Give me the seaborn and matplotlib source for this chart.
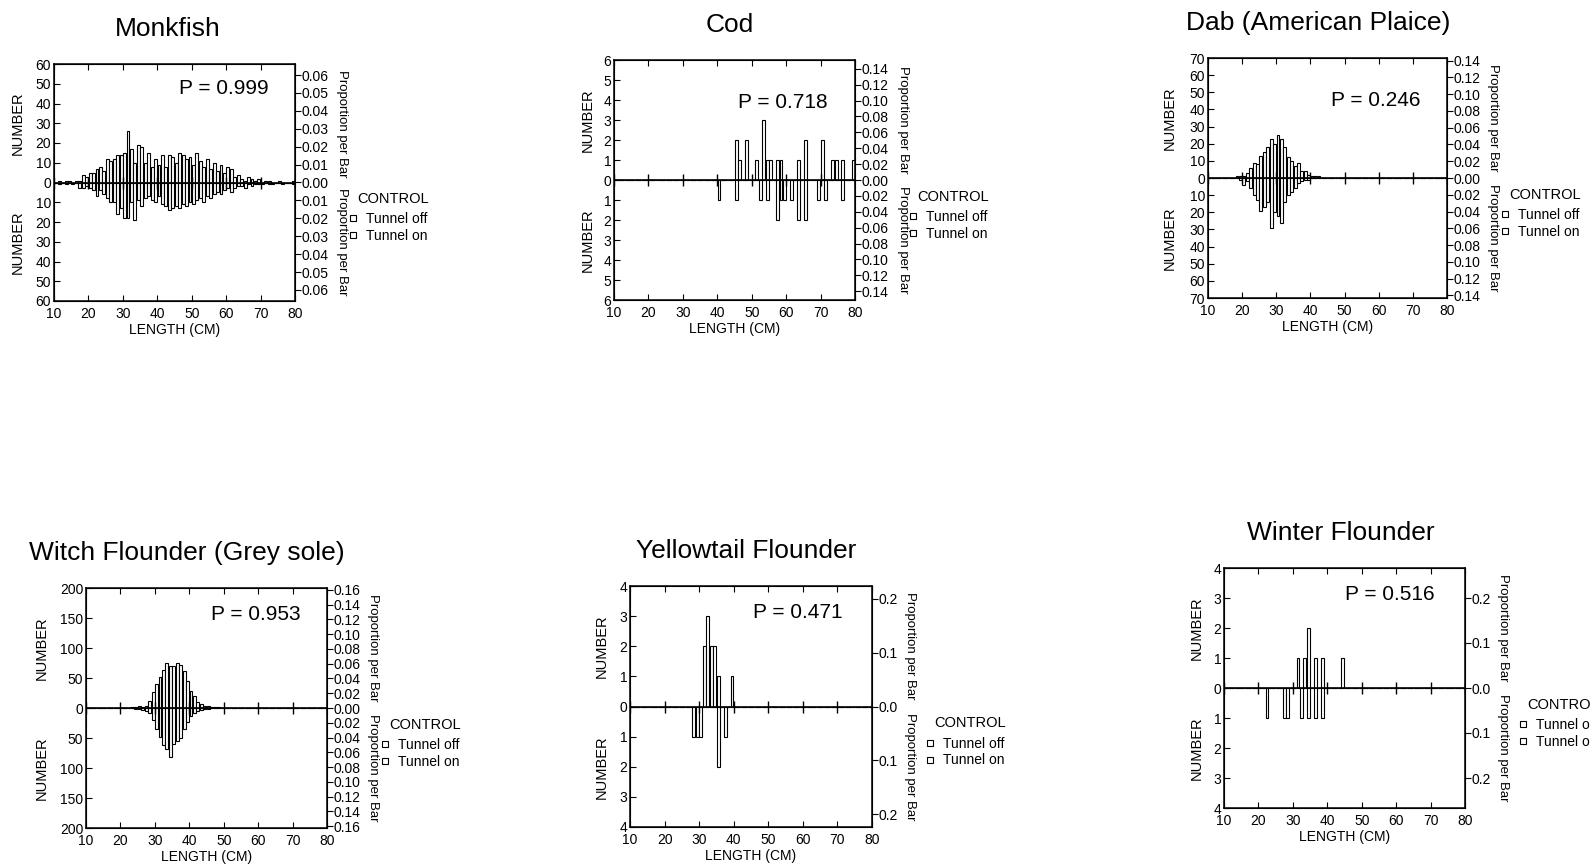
"""
Back-to-back length-frequency histograms, tunnel off (up) vs tunnel on (down),
six species, 1 cm length classes.
"""

import numpy as np
import pandas as pd
import matplotlib
matplotlib.use("Agg")
import matplotlib.pyplot as plt
from matplotlib.lines import Line2D
from matplotlib.ticker import FuncFormatter, MultipleLocator
import seaborn as sns

sns.set_style("ticks")
plt.rcParams["font.family"] = ["Liberation Sans", "DejaVu Sans"]
plt.rcParams.update({"text.color": "black", "axes.labelcolor": "black",
                     "xtick.color": "black", "ytick.color": "black",
                     "axes.edgecolor": "black"})

# ---- data -------------------------------------------------------------
TITLES = ["Monkfish", "Cod", "Dab (American Plaice)",
          "Witch Flounder (Grey sole)", "Yellowtail Flounder", "Winter Flounder"]
P_VALUES = ["0.999", "0.718", "0.246", "0.953", "0.471", "0.516"]
Y_MAX = [60, 6, 70, 200, 4, 4]
Y_STEP = [10, 1, 10, 50, 1, 1]
PROP_STEP = [0.01, 0.02, 0.02, 0.02, 0.1, 0.1]
TOTAL_N = [907, 39.7, 489, 1232, 17.9, 15.0]   # fish per panel (sets right axis)
XTICKS = [10, 20, 30, 40, 50, 60, 70, 80]

MONK_LEN = list(range(11, 80))
MONK_OFF = [1, 0, 1, 1, 0, 1, 1, 4, 3, 5, 5, 7, 8, 6, 12, 11, 12, 14, 14, 15,
            26, 17, 10, 19, 18, 10, 15, 8, 12, 9, 14, 8, 14, 13, 10, 15, 14, 12,
            13, 9, 15, 11, 8, 12, 7, 10, 6, 9, 5, 8, 7, 3, 4, 2, 1, 3, 2, 1,
            2, 0, 1, 1, 0, 0, 1, 0, 0, 0, 1]
MONK_ON = [1, 0, 1, 0, 1, 0, 3, 3, 2, 3, 4, 7, 4, 6, 8, 10, 10, 16, 13, 18,
           18, 10, 19, 9, 12, 8, 7, 9, 10, 7, 11, 12, 14, 13, 12, 13, 11, 12,
           10, 11, 9, 8, 10, 7, 8, 6, 5, 6, 4, 3, 5, 3, 2, 2, 3, 1, 2, 1, 1,
           1, 0, 1, 1, 0, 0, 1, 0, 0, 1]

COD_OFF_LEN = [45, 46, 48, 51, 53, 54, 55, 57, 58, 63, 65, 70, 73, 74, 76, 79]
COD_OFF = [2, 1, 2, 1, 3, 1, 1, 1, 1, 1, 2, 2, 1, 1, 1, 1]
COD_ON_LEN = [40, 45, 52, 54, 57, 58, 59, 61, 63, 65, 69, 71, 76]
COD_ON = [1, 1, 1, 1, 2, 1, 1, 1, 2, 2, 1, 1, 1]

DAB_LEN = list(range(17, 44))
DAB_OFF = [0, 1, 1, 1, 3, 6, 9, 8, 13, 15, 18, 23, 20, 25, 23, 18, 12, 10, 7,
           9, 4, 4, 2, 1, 1, 1, 0]
DAB_ON = [0, 0, 1, 4, 2, 6, 10, 13, 19, 17, 14, 29, 20, 22, 26, 14, 10, 8, 6,
          3, 2, 1, 1, 0, 0, 0, 0]

WITCH_LEN = list(range(22, 51))
WITCH_OFF = [0, 1, 2, 3, 1, 4, 12, 26, 40, 52, 64, 75, 70, 70, 75, 72, 62, 45,
             28, 20, 10, 6, 4, 3, 2, 1, 1, 0, 0]
WITCH_ON = [0, 0, 1, 2, 3, 5, 9, 20, 35, 48, 62, 68, 82, 60, 55, 50, 35, 24,
            14, 9, 5, 3, 2, 1, 0, 0, 0, 0, 0]

YT_OFF_LEN = [31, 32, 33, 34, 35, 39]
YT_OFF = [2, 3, 2, 2, 1, 1]
YT_ON_LEN = [28, 29, 30, 35, 37]
YT_ON = [1, 1, 1, 2, 1]

WF_OFF_LEN = [31, 33, 34, 36, 38, 44]
WF_OFF = [1, 1, 2, 1, 1, 1]
WF_ON_LEN = [22, 27, 28, 32, 34, 36, 38]
WF_ON = [1, 1, 1, 1, 1, 1, 1]

PANELS = [
    (MONK_LEN, MONK_OFF, MONK_LEN, MONK_ON),
    (COD_OFF_LEN, COD_OFF, COD_ON_LEN, COD_ON),
    (DAB_LEN, DAB_OFF, DAB_LEN, DAB_ON),
    (WITCH_LEN, WITCH_OFF, WITCH_LEN, WITCH_ON),
    (YT_OFF_LEN, YT_OFF, YT_ON_LEN, YT_ON),
    (WF_OFF_LEN, WF_OFF, WF_ON_LEN, WF_ON),
]

# ---- layout (pixels of the 1590x865 figure) ---------------------------
W, H = 1590, 865
AX_PX = [(54, 64, 295, 301), (614, 60, 855, 300), (1208, 58, 1447, 298),
         (86, 588, 327, 828), (630, 586, 872, 827), (1224, 568, 1465, 808)]
TITLE_X = [0.47, 0.48, 0.46, 0.42, 0.48, 0.485]
P_POS = [(0.705, 0.895), (0.70, 0.825), (0.70, 0.825),
         (0.705, 0.89), (0.695, 0.89), (0.69, 0.89)]
LEFT_LAB = [36, 26, 38, 44, 28, 27]
RIGHT_LAB = [47, 48, 46, 46, 38, 38]

fig = plt.figure(figsize=(W / 100, H / 100), dpi=100)
bar_kw = dict(binwidth=1, binrange=(10, 80), color="white", edgecolor="black",
              linewidth=0.8, alpha=1, shrink=0.85)

for i, (off_len, off_n, on_len, on_n) in enumerate(PANELS):
    x0, y0, x1, y1 = AX_PX[i]
    wpx, hpx = x1 - x0, y1 - y0
    ax = fig.add_axes([x0 / W, 1 - y1 / H, wpx / W, hpx / H])

    off = pd.DataFrame({"length": off_len, "n": off_n})
    on = pd.DataFrame({"length": on_len, "n": [-v for v in on_n]})
    sns.histplot(data=off, x="length", weights="n", ax=ax, **bar_kw)
    sns.histplot(data=on, x="length", weights="n", ax=ax, **bar_kw)

    ym = Y_MAX[i]
    ax.set_xlim(10, 80)
    ax.set_ylim(-ym, ym)
    ax.axhline(0, color="black", lw=1.2)
    ax.plot(XTICKS, [0] * len(XTICKS), ls="none", marker="|", ms=9,
            mew=1, color="black")
    ax.set_xticks(XTICKS)
    ax.yaxis.set_major_locator(MultipleLocator(Y_STEP[i]))
    ax.yaxis.set_major_formatter(FuncFormatter(lambda v, p: f"{abs(v):g}"))
    ax.tick_params(axis="both", direction="in", length=4, labelsize=10,
                   pad=2, top=True)
    ax.tick_params(axis="x", pad=4)
    ax.set_ylabel("")
    ax.set_xlabel("LENGTH (CM)", fontsize=10, labelpad=2)
    for s in ax.spines.values():
        s.set_linewidth(1.1)

    ax.set_title(TITLES[i], fontsize=19, pad=20, x=TITLE_X[i])
    ax.text(*P_POS[i], f"P = {P_VALUES[i]}", transform=ax.transAxes,
            ha="center", va="center", fontsize=15)
    for yy in (0.75, 0.25):
        ax.text(-LEFT_LAB[i] / wpx, yy, "NUMBER", transform=ax.transAxes,
                rotation=90, ha="center", va="center", fontsize=10.5)

    # right axis: proportion per bar
    ax2 = ax.twinx()
    pm = ym / TOTAL_N[i]
    ax2.set_ylim(-pm, pm)
    dec = 2 if PROP_STEP[i] < 0.1 else 1
    ax2.yaxis.set_major_locator(MultipleLocator(PROP_STEP[i]))
    ax2.yaxis.set_major_formatter(
        FuncFormatter(lambda v, p, d=dec: f"{abs(v):.{d}f}"))
    ax2.tick_params(axis="y", direction="out", length=4, labelsize=10, pad=1)
    for yy in (0.75, 0.25):
        ax2.text(1 + RIGHT_LAB[i] / wpx, yy, "Proportion per Bar",
                 transform=ax2.transAxes, rotation=-90, ha="center",
                 va="center", fontsize=9.5)

    # legend block: CONTROL heading + two hollow-square entries
    ax2.text(1 + 62 / wpx, 0.43, "CONTROL", transform=ax2.transAxes,
             ha="left", va="center", fontsize=10.5)
    handles = [Line2D([], [], marker="s", ls="none", mfc="white", mec="black",
                      ms=5, mew=0.8, label=lab)
               for lab in ("Tunnel off", "Tunnel on")]
    ax2.legend(handles=handles, loc="upper left",
               bbox_to_anchor=(1 + 54 / wpx, 0.375), frameon=False,
               fontsize=10, handlelength=0.6, handletextpad=0.6,
               labelspacing=0.2, borderpad=0, borderaxespad=0)

plt.savefig("out.png", dpi=100)
plt.close()
